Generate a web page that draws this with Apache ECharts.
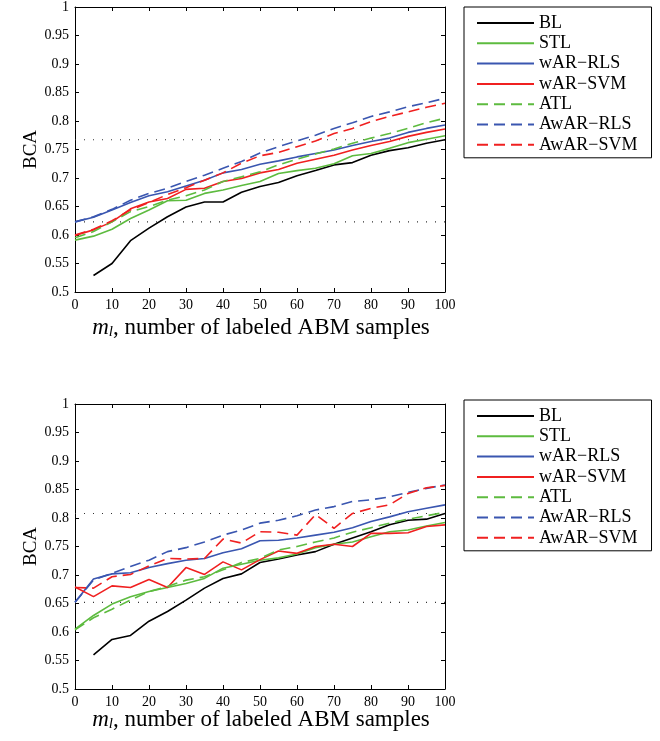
<!DOCTYPE html>
<html>
<head>
<meta charset="utf-8">
<script src="https://cdn.jsdelivr.net/npm/echarts@6/dist/echarts.min.js"></script>
<style>
  html, body { margin: 0; padding: 0; background: #fff; }
  #chart { width: 660px; height: 741px; }
</style>
</head>
<body>
<div id="chart"></div>
<script>
// Number of labeled ABM samples (x positions of every curve)
const samples = [0, 5, 10, 15, 20, 25, 30, 35, 40, 45, 50, 55, 60, 65, 70, 75, 80, 85, 90, 95, 100];

const methodNames = ['BL', 'STL', 'wAR−RLS', 'wAR−SVM', 'ATL', 'AwAR−RLS', 'AwAR−SVM'];
const yTicks = [0.5, 0.55, 0.6, 0.65, 0.7, 0.75, 0.8, 0.85, 0.9, 0.95, 1];
const xTicks = [0, 10, 20, 30, 40, 50, 60, 70, 80, 90, 100];

// Upper panel: BCA per method
const topBL      = [null, 0.529, 0.550, 0.590, 0.612, 0.632, 0.649, 0.658, 0.658, 0.675, 0.685, 0.692, 0.704, 0.713, 0.723, 0.727, 0.740, 0.748, 0.753, 0.761, 0.767];
const topSTL     = [0.591, 0.598, 0.610, 0.629, 0.644, 0.660, 0.661, 0.673, 0.679, 0.687, 0.694, 0.708, 0.713, 0.717, 0.725, 0.739, 0.743, 0.752, 0.762, 0.768, 0.774];
const topWarRls  = [0.623, 0.631, 0.644, 0.657, 0.669, 0.676, 0.686, 0.696, 0.709, 0.715, 0.724, 0.730, 0.737, 0.743, 0.749, 0.757, 0.764, 0.770, 0.780, 0.787, 0.793];
const topWarSvm  = [0.599, 0.609, 0.623, 0.646, 0.658, 0.664, 0.680, 0.682, 0.694, 0.699, 0.709, 0.715, 0.726, 0.733, 0.740, 0.749, 0.757, 0.764, 0.773, 0.780, 0.786];
const topATL     = [0.595, 0.606, 0.623, 0.641, 0.650, 0.661, 0.669, 0.679, 0.694, 0.702, 0.711, 0.723, 0.733, 0.742, 0.751, 0.761, 0.770, 0.778, 0.787, 0.797, 0.805];
const topAwarRls = [0.623, 0.632, 0.645, 0.661, 0.673, 0.682, 0.694, 0.705, 0.717, 0.729, 0.744, 0.755, 0.765, 0.775, 0.787, 0.797, 0.808, 0.816, 0.825, 0.832, 0.840];
const topAwarSvm = [0.600, 0.610, 0.625, 0.644, 0.657, 0.671, 0.683, 0.696, 0.709, 0.726, 0.739, 0.745, 0.755, 0.765, 0.778, 0.787, 0.799, 0.808, 0.816, 0.824, 0.831];

// Lower panel: BCA per method
const botBL      = [null, 0.560, 0.587, 0.594, 0.619, 0.636, 0.656, 0.677, 0.694, 0.702, 0.722, 0.728, 0.735, 0.741, 0.754, 0.765, 0.776, 0.788, 0.796, 0.798, 0.808];
const botSTL     = [0.605, 0.629, 0.649, 0.662, 0.671, 0.678, 0.685, 0.694, 0.712, 0.719, 0.726, 0.730, 0.737, 0.748, 0.754, 0.758, 0.767, 0.776, 0.779, 0.786, 0.792];
const botWarRls  = [0.652, 0.693, 0.702, 0.704, 0.713, 0.720, 0.726, 0.729, 0.739, 0.746, 0.760, 0.761, 0.765, 0.770, 0.775, 0.783, 0.794, 0.802, 0.811, 0.817, 0.823];
const botWarSvm  = [0.679, 0.662, 0.681, 0.678, 0.692, 0.678, 0.713, 0.701, 0.723, 0.709, 0.727, 0.742, 0.738, 0.750, 0.754, 0.750, 0.773, 0.773, 0.774, 0.785, 0.788];
const botATL     = [0.604, 0.625, 0.640, 0.656, 0.671, 0.680, 0.691, 0.697, 0.709, 0.722, 0.729, 0.744, 0.750, 0.758, 0.765, 0.775, 0.783, 0.791, 0.798, 0.804, 0.810];
const botAwarRls = [0.652, 0.691, 0.703, 0.715, 0.726, 0.741, 0.748, 0.758, 0.770, 0.779, 0.791, 0.796, 0.804, 0.814, 0.820, 0.829, 0.832, 0.837, 0.845, 0.852, 0.858];
const botAwarSvm = [0.678, 0.677, 0.697, 0.701, 0.716, 0.729, 0.728, 0.729, 0.763, 0.756, 0.776, 0.775, 0.770, 0.806, 0.782, 0.808, 0.817, 0.823, 0.843, 0.853, 0.857];

const panels = [
  { grid: { left: 75, top: 7,   width: 370, height: 285 },
    values: [topBL, topSTL, topWarRls, topWarSvm, topATL, topAwarRls, topAwarSvm],
    legendTop: 7, titleTop: 311 },
  { grid: { left: 75, top: 404, width: 370, height: 285 },
    values: [botBL, botSTL, botWarRls, botWarSvm, botATL, botAwarRls, botAwarSvm],
    legendTop: 400, titleTop: 703 }
];

const GREEN = '#5dbb3f', BLUE = '#3a56b0', RED = '#f02020';
const styles = [
  { color: '#000000', type: 'solid' },
  { color: GREEN, type: 'solid' },
  { color: BLUE, type: 'solid' },
  { color: RED, type: 'solid' },
  { color: GREEN, type: [11, 6] },
  { color: BLUE, type: [11, 6] },
  { color: RED, type: [11, 6] }
];

const SERIF = '"Liberation Serif", "DejaVu Serif", serif';

const grids = [], xAxes = [], yAxes = [], series = [], legends = [], titles = [];

panels.forEach((p, pi) => {
  grids.push(p.grid);
  const bx = xAxes.length, by = yAxes.length;
  // bottom and top x axes (box with inward ticks)
  [['bottom', true], ['top', false]].forEach(([pos, labels]) => {
    xAxes.push({
      type: 'value', gridIndex: pi, position: pos, min: 0, max: 100, interval: 10,
      axisLine: { show: true, onZero: false, lineStyle: { color: '#000', width: 1 } },
      axisTick: { show: true, inside: true, length: 4, lineStyle: { color: '#000' } },
      axisLabel: { show: labels, color: '#000', fontFamily: SERIF, fontSize: 14, margin: 6,
                   formatter: v => String(v) },
      splitLine: { show: false }
    });
  });
  [['left', true], ['right', false]].forEach(([pos, labels]) => {
    yAxes.push({
      type: 'value', gridIndex: pi, position: pos, min: 0.5, max: 1, interval: 0.05,
      axisLine: { show: true, onZero: false, lineStyle: { color: '#000', width: 1 } },
      axisTick: { show: true, inside: true, length: 4, lineStyle: { color: '#000' } },
      axisLabel: { show: labels, color: '#000', fontFamily: SERIF, fontSize: 14, margin: 6,
                   formatter: v => String(+v.toFixed(2)) },
      splitLine: { show: false }
    });
  });

  // Reference levels: final BL score and initial wAR-RLS score
  const bl = p.values[0], rls = p.values[2];
  [bl[bl.length - 1], rls[0]].forEach(level => {
    series.push({
      type: 'line', xAxisIndex: bx, yAxisIndex: by, silent: true,
      symbol: 'none', z: 1,
      data: [[0, level], [100, level]],
      lineStyle: { color: '#333', width: 1.1, type: [1, 8] }
    });
  });

  p.values.forEach((vals, si) => {
    series.push({
      name: methodNames[si], type: 'line', xAxisIndex: bx, yAxisIndex: by,
      symbol: 'none', z: 2,
      data: samples.map((x, i) => vals[i] == null ? null : [x, vals[i]]).filter(d => d),
      lineStyle: { color: styles[si].color, width: 1.6, type: styles[si].type },
      itemStyle: { color: styles[si].color }
    });
  });

  legends.push({
    data: methodNames, orient: 'vertical', left: 464, top: p.legendTop,
    itemWidth: 57, itemHeight: 14, itemGap: 2.3,
    padding: [7, 14, 4, 12],
    borderColor: '#000', borderWidth: 1, backgroundColor: '#fff',
    selectedMode: false,
    itemStyle: { opacity: 0 },
    textStyle: { color: '#000', fontFamily: SERIF, fontSize: 18 }
  });

  titles.push({
    text: '{i|m}{s|l}, number of labeled ABM samples',
    left: 256, top: p.titleTop, textAlign: 'center',
    textStyle: {
      fontFamily: SERIF, fontSize: 23, fontWeight: 'normal', color: '#000',
      rich: {
        i: { fontFamily: SERIF, fontStyle: 'italic', fontSize: 23, color: '#000' },
        s: { fontFamily: SERIF, fontStyle: 'italic', fontSize: 15, color: '#000', padding: [9, 0, 0, 0] }
      }
    }
  });
});

const chart = echarts.init(document.getElementById('chart'), null, { renderer: 'canvas' });
chart.setOption({
  animation: false,
  backgroundColor: '#fff',
  grid: grids, xAxis: xAxes, yAxis: yAxes, series: series, legend: legends,
  title: titles,
  graphic: panels.map(p => ({
    type: 'text', rotation: Math.PI / 2,
    x: 31, y: p.grid.top + p.grid.height / 2,
    style: { text: 'BCA', font: '19px ' + SERIF, fill: '#000', align: 'center', verticalAlign: 'middle' }
  }))
});
</script>
</body>
</html>
